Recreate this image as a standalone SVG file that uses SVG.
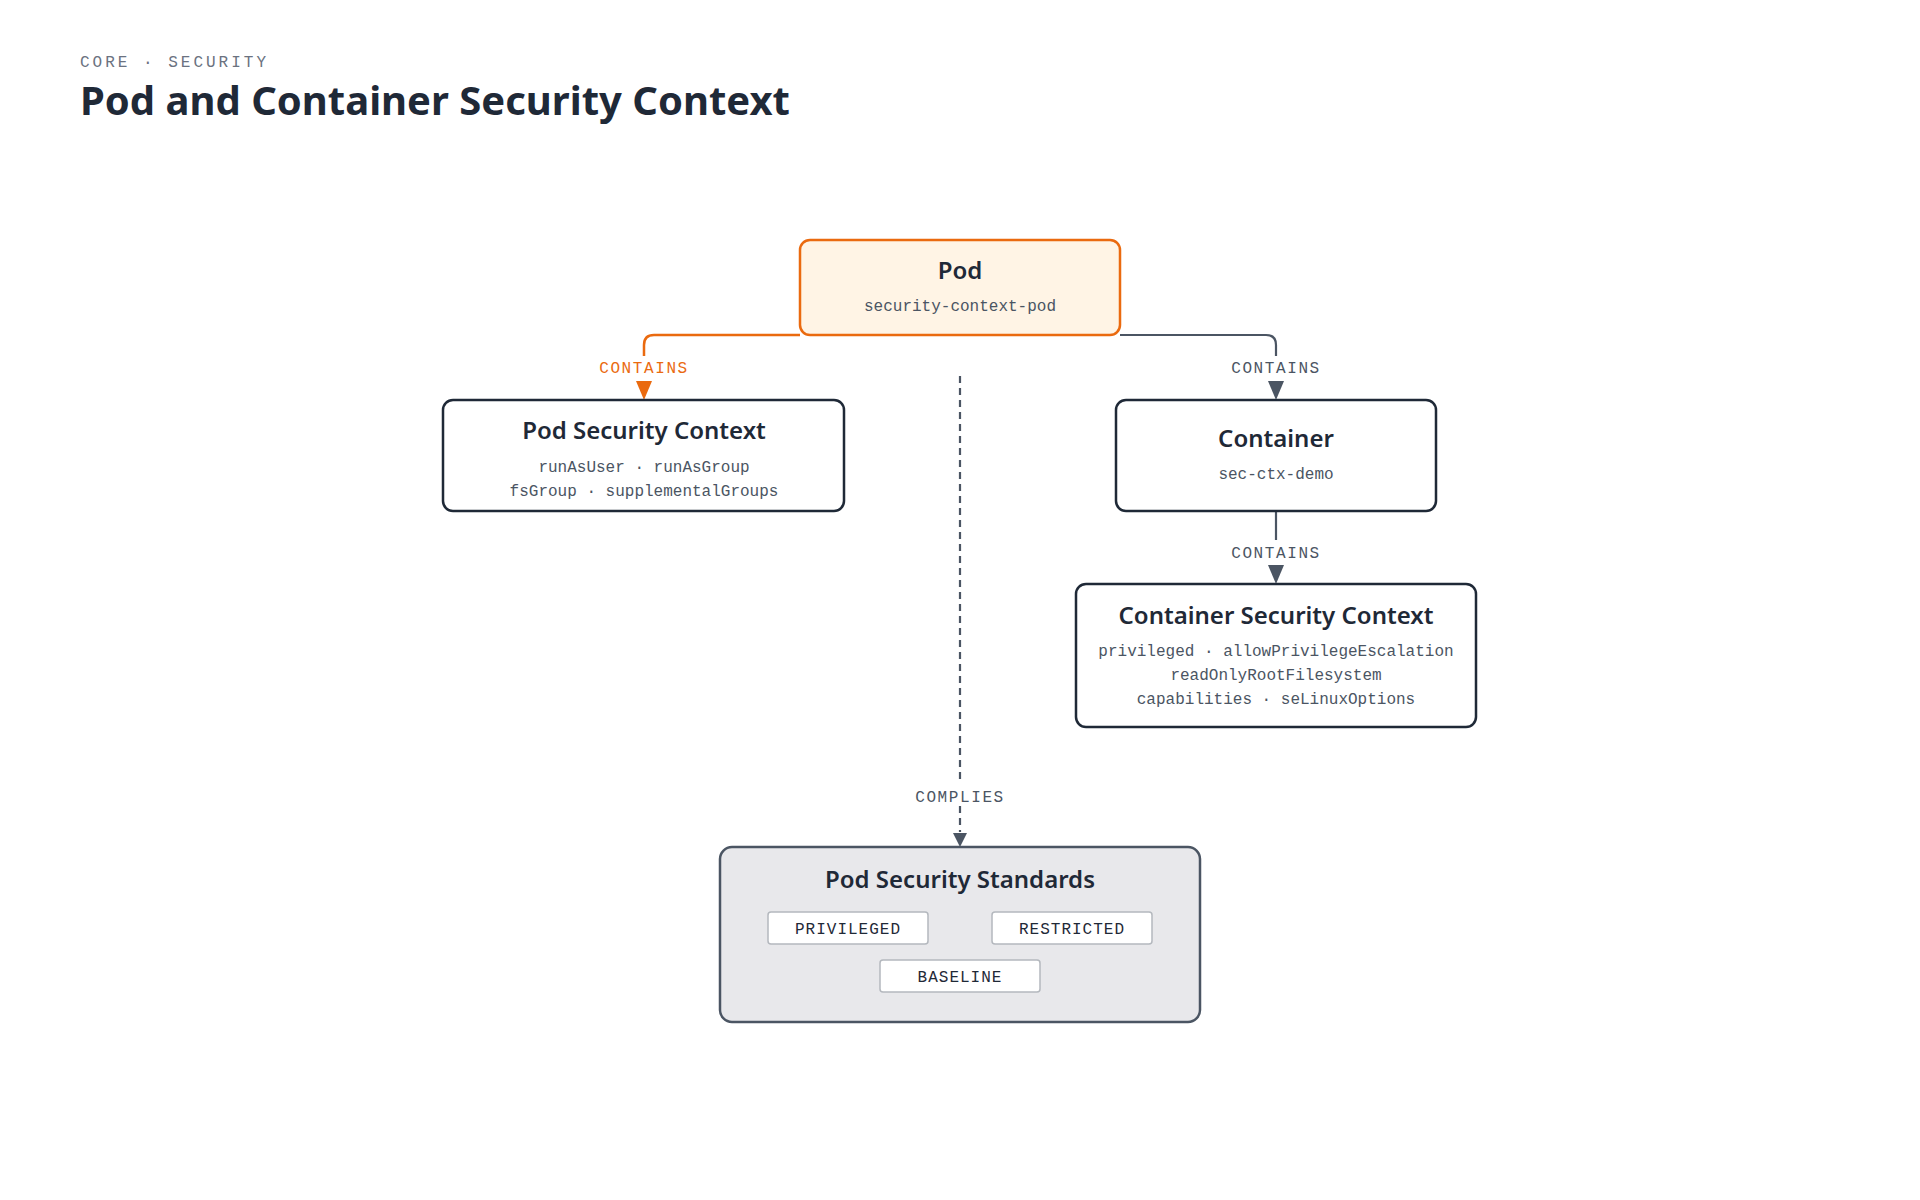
<svg xmlns="http://www.w3.org/2000/svg" width="1920" height="1200" viewBox="0 0 1920 1200">
<style>
.sans{font-family:"Noto Sans","Open Sans","Liberation Sans",sans-serif}
.mono{font-family:"Liberation Mono","DejaVu Sans Mono",monospace}
.ttl{font-size:24px;font-weight:600;fill:#1f2937;text-anchor:middle}
.sub{font-size:16px;fill:#4b5563;text-anchor:middle}
.lbl{font-size:16px;fill:#4b5563;text-anchor:middle;letter-spacing:1.6px}
.box{fill:#fff;stroke:#1f2937;stroke-width:2.5}
.chip{fill:#fff;stroke:#b4b8be;stroke-width:1.5}
.chipt{font-size:16px;fill:#1f2937;text-anchor:middle;letter-spacing:1px}
.ln{fill:none;stroke:#4b5563;stroke-width:2.2}
</style>
<rect width="1920" height="1200" fill="#fff"/>
<text x="80" y="67" class="mono" font-size="16" fill="#6b7280" letter-spacing="3">CORE · SECURITY</text>
<text x="80" y="115" class="sans" font-size="40" font-weight="700" fill="#1f2937">Pod and Container Security Context</text>

<g id="connectors">
<path d="M800,335 H654 Q644,335 644,345 V356" fill="none" stroke="#ea6a0f" stroke-width="2.5"/>
<path d="M636,381 L652,381 L644,400 Z" fill="#ea6a0f"/>
<text x="644" y="373" class="mono lbl" style="fill:#ea6a0f">CONTAINS</text>
<path class="ln" d="M1120,335 H1266 Q1276,335 1276,345 V356"/>
<path d="M1268,381 L1284,381 L1276,400 Z" fill="#4b5563"/>
<text x="1276" y="373" class="mono lbl">CONTAINS</text>
<path class="ln" d="M1276,511 V540"/>
<path d="M1268,565 L1284,565 L1276,584 Z" fill="#4b5563"/>
<text x="1276" y="558" class="mono lbl">CONTAINS</text>
<path class="ln" d="M960,376 V782" stroke-dasharray="7,5"/>
<path class="ln" d="M960,806 V832" stroke-dasharray="7,5"/>
<path d="M953,833 L967,833 L960,847 Z" fill="#4b5563"/>
<text x="960" y="802" class="mono lbl">COMPLIES</text>
</g>

<g id="pod">
<rect x="800" y="240" width="320" height="95" rx="10" fill="#fff4e5" stroke="#ea6a0f" stroke-width="2.5"/>
<text x="960" y="279" class="sans ttl">Pod</text>
<text x="960" y="311" class="mono sub">security-context-pod</text>
</g>
<g id="pod-security-context">
<rect x="443" y="400" width="401" height="111" rx="10" class="box"/>
<text x="644" y="439" class="sans ttl">Pod Security Context</text>
<text x="644" y="472" class="mono sub">runAsUser · runAsGroup</text>
<text x="644" y="496" class="mono sub">fsGroup · supplementalGroups</text>
</g>
<g id="container">
<rect x="1116" y="400" width="320" height="111" rx="10" class="box"/>
<text x="1276" y="447" class="sans ttl">Container</text>
<text x="1276" y="479" class="mono sub">sec-ctx-demo</text>
</g>
<g id="container-security-context">
<rect x="1076" y="584" width="400" height="143" rx="10" class="box"/>
<text x="1276" y="624" class="sans ttl">Container Security Context</text>
<text x="1276" y="656" class="mono sub">privileged · allowPrivilegeEscalation</text>
<text x="1276" y="680" class="mono sub">readOnlyRootFilesystem</text>
<text x="1276" y="704" class="mono sub">capabilities · seLinuxOptions</text>
</g>
<g id="pod-security-standards">
<rect x="720" y="847" width="480" height="175" rx="12" fill="#e8e8eb" stroke="#4b5563" stroke-width="2.5"/>
<text x="960" y="888" class="sans ttl">Pod Security Standards</text>
<rect x="768" y="912" width="160" height="32" rx="3" class="chip"/>
<text x="848" y="934" class="mono chipt">PRIVILEGED</text>
<rect x="992" y="912" width="160" height="32" rx="3" class="chip"/>
<text x="1072" y="934" class="mono chipt">RESTRICTED</text>
<rect x="880" y="960" width="160" height="32" rx="3" class="chip"/>
<text x="960" y="982" class="mono chipt">BASELINE</text>
</g>
</svg>
